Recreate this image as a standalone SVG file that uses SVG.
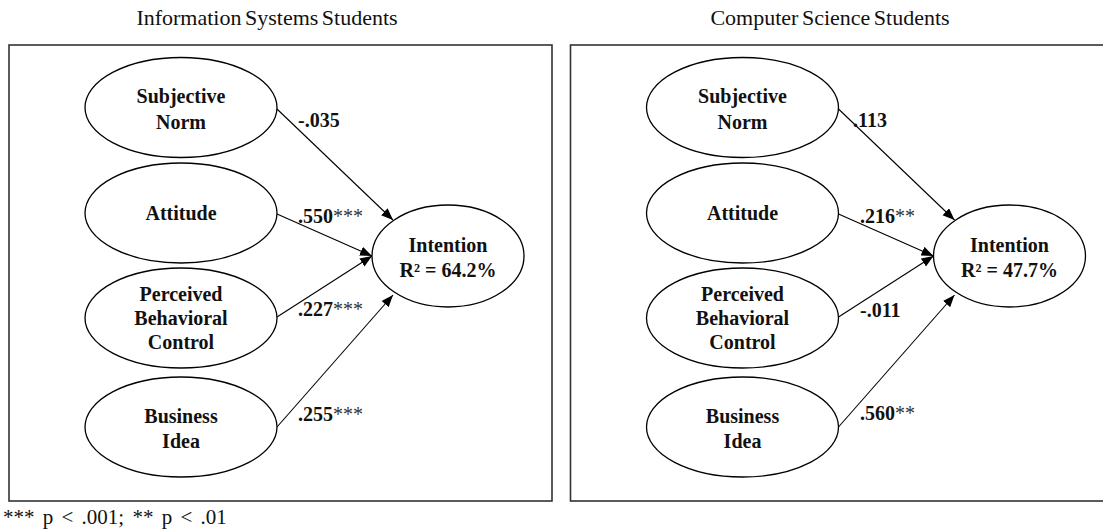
<svg xmlns="http://www.w3.org/2000/svg" width="1103" height="532" viewBox="0 0 1103 532">
  <style>
    .title { font-family: "Liberation Serif", "Times New Roman", serif; font-size: 22px; fill: #111; text-anchor: middle; word-spacing: -2px; }
    .node ellipse { fill: #fff; stroke: #000; stroke-width: 1.3; }
    .node text { font-family: "Liberation Serif", "Times New Roman", serif; font-size: 20px; font-weight: bold; fill: #111; text-anchor: middle; }
    .frame { fill: none; stroke: #333; stroke-width: 1.6; }
    .edge { stroke: #000; stroke-width: 1.1; fill: none; marker-end: url(#arrow); }
    .coef { font-family: "Liberation Serif", "Times New Roman", serif; font-size: 20px; font-weight: bold; fill: #111; }
    .coef tspan.sig { font-weight: normal; fill: #333; }
    .note { font-family: "Liberation Serif", "Times New Roman", serif; font-size: 21px; fill: #111; word-spacing: 3px; }
  </style>
  <defs>
    <marker id="arrow" markerUnits="userSpaceOnUse" markerWidth="13" markerHeight="10" refX="12" refY="4.75" orient="auto">
      <path d="M0,0 L12,4.75 L0,9.5 z" fill="#000"/>
    </marker>
  </defs>

  <rect width="1103" height="532" fill="#fff"/>

  <!-- panel titles and frames -->
  <text class="title" x="267" y="25">Information Systems Students</text>
  <text class="title" x="830" y="25">Computer Science Students</text>
  <rect class="frame" x="9" y="45" width="543" height="456"/>
  <rect class="frame" x="570.5" y="45" width="543" height="456"/>

  <!-- connectors -->
  <g id="connectors">
    <line class="edge" x1="277" y1="109" x2="393" y2="220"/>
    <line class="edge" x1="277" y1="214" x2="372" y2="256"/>
    <line class="edge" x1="277" y1="317" x2="372" y2="256"/>
    <line class="edge" x1="277" y1="427" x2="393" y2="295"/>

    <line class="edge" x1="838.5" y1="109" x2="954.5" y2="220"/>
    <line class="edge" x1="838.5" y1="214" x2="933.5" y2="256"/>
    <line class="edge" x1="838.5" y1="317" x2="933.5" y2="256"/>
    <line class="edge" x1="838.5" y1="427" x2="954.5" y2="295"/>
  </g>

  <!-- path coefficients -->
  <g id="coefficients">
    <text class="coef" x="298" y="127">-.035</text>
    <text class="coef" x="298" y="223">.550<tspan class="sig">***</tspan></text>
    <text class="coef" x="298" y="316">.227<tspan class="sig">***</tspan></text>
    <text class="coef" x="298" y="421">.255<tspan class="sig">***</tspan></text>

    <text class="coef" x="853" y="127">.113</text>
    <text class="coef" x="860" y="223">.216<tspan class="sig">**</tspan></text>
    <text class="coef" x="860" y="317">-.011</text>
    <text class="coef" x="860" y="420">.560<tspan class="sig">**</tspan></text>
  </g>

  <!-- Information Systems model -->
  <g id="is-subjective-norm" class="node">
    <ellipse cx="181" cy="107.5" rx="96" ry="50"/>
    <text x="181" y="103">Subjective</text>
    <text x="181" y="129">Norm</text>
  </g>
  <g id="is-attitude" class="node">
    <ellipse cx="181" cy="213" rx="96" ry="50"/>
    <text x="181" y="220">Attitude</text>
  </g>
  <g id="is-pbc" class="node">
    <ellipse cx="181" cy="318" rx="96" ry="50"/>
    <text x="181" y="301">Perceived</text>
    <text x="181" y="325">Behavioral</text>
    <text x="181" y="349">Control</text>
  </g>
  <g id="is-business-idea" class="node">
    <ellipse cx="181" cy="427" rx="96" ry="50"/>
    <text x="181" y="423">Business</text>
    <text x="181" y="448">Idea</text>
  </g>
  <g id="is-intention" class="node">
    <ellipse cx="448" cy="256" rx="76" ry="51"/>
    <text x="448" y="252">Intention</text>
    <text x="448" y="277">R² = 64.2%</text>
  </g>

  <!-- Computer Science model -->
  <g id="cs-subjective-norm" class="node">
    <ellipse cx="742.5" cy="107.5" rx="96" ry="50"/>
    <text x="742.5" y="103">Subjective</text>
    <text x="742.5" y="129">Norm</text>
  </g>
  <g id="cs-attitude" class="node">
    <ellipse cx="742.5" cy="213" rx="96" ry="50"/>
    <text x="742.5" y="220">Attitude</text>
  </g>
  <g id="cs-pbc" class="node">
    <ellipse cx="742.5" cy="318" rx="96" ry="50"/>
    <text x="742.5" y="301">Perceived</text>
    <text x="742.5" y="325">Behavioral</text>
    <text x="742.5" y="349">Control</text>
  </g>
  <g id="cs-business-idea" class="node">
    <ellipse cx="742.5" cy="427" rx="96" ry="50"/>
    <text x="742.5" y="423">Business</text>
    <text x="742.5" y="448">Idea</text>
  </g>
  <g id="cs-intention" class="node">
    <ellipse cx="1009.5" cy="256" rx="76" ry="51"/>
    <text x="1009.5" y="252">Intention</text>
    <text x="1009.5" y="277">R² = 47.7%</text>
  </g>

  <!-- significance note -->
  <text class="note" x="3" y="524">*** p &lt; .001; ** p &lt; .01</text>
</svg>
